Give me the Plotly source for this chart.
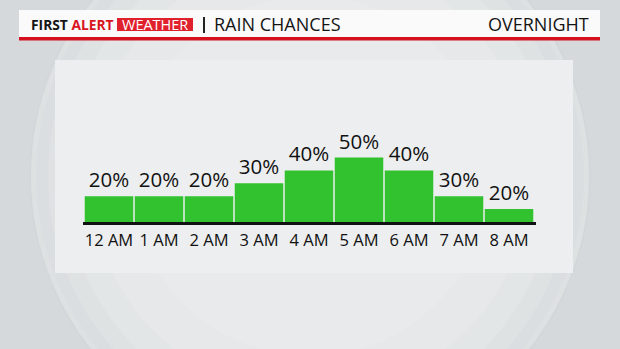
import plotly.graph_objects as go

# ---- data ----
hours = ["12 AM", "1 AM", "2 AM", "3 AM", "4 AM", "5 AM", "6 AM", "7 AM", "8 AM"]
bar_heights = [20, 20, 20, 30, 40, 50, 40, 20, 10]   # heights as drawn in the graphic
chance_labels = ["20%", "20%", "20%", "30%", "40%", "50%", "40%", "30%", "20%"]

W, H = 620, 349
FONT = "Open Sans"


def px(x):
    return x / W


def py(y):
    return 1 - y / H


fig = go.Figure()
fig.add_trace(go.Bar(
    x=hours, y=bar_heights,
    text=chance_labels, textposition="outside", cliponaxis=False,
    textfont=dict(family=FONT, size=20.5, color="#111111"),
    marker=dict(color="#33c22f", line=dict(width=0)),
    hoverinfo="skip",
))

shapes = []
# background sphere (concentric layers for a soft gradient)
cx, cy = 310, 176
layers = [(281, "#d3d7d9"), (279, "#dee1e2"), (274, "#dbdee0"), (262, "#dfe2e3"),
          (245, "#e3e6e7"), (220, "#e6e8e9"), (180, "#e8eaeb")]
for r, col in layers:
    shapes.append(dict(type="circle", xref="paper", yref="paper",
                       x0=px(cx - r), x1=px(cx + r), y0=py(cy + r), y1=py(cy - r),
                       fillcolor=col, line=dict(width=0), layer="below"))
# chart panel
shapes.append(dict(type="rect", xref="paper", yref="paper",
                   x0=px(55), x1=px(573), y0=py(273), y1=py(60),
                   fillcolor="#eceeef", line=dict(width=0), layer="below"))
# header bar
shapes.append(dict(type="rect", xref="paper", yref="paper",
                   x0=px(19), x1=px(600), y0=py(37), y1=py(10),
                   fillcolor="#fafafa", line=dict(width=0), layer="below"))
shapes.append(dict(type="rect", xref="paper", yref="paper",
                   x0=px(19), x1=px(600), y0=py(40.5), y1=py(37),
                   fillcolor="#d5101f", line=dict(width=0), layer="below"))
# WEATHER red box
shapes.append(dict(type="rect", xref="paper", yref="paper",
                   x0=px(117), x1=px(193), y0=py(31), y1=py(18),
                   fillcolor="#e0202c", line=dict(width=0), layer="below"))
# separator
shapes.append(dict(type="line", xref="paper", yref="paper",
                   x0=px(204), x1=px(204), y0=py(33), y1=py(17),
                   line=dict(color="#222222", width=2)))
# baseline
shapes.append(dict(type="line", xref="paper", yref="paper",
                   x0=px(83), x1=px(536), y0=py(223.5), y1=py(223.5),
                   line=dict(color="#111111", width=3), layer="above"))

annotations = [
    dict(text="<b>FIRST</b> <b><span style='color:#d9141f'>ALERT</span></b>",
         xref="paper", yref="paper", x=px(29), y=py(24.5), xanchor="left", yanchor="middle",
         showarrow=False, font=dict(family=FONT, size=13.8, color="#151515")),
    dict(text="WEATHER", xref="paper", yref="paper", x=px(155), y=py(24.5),
         xanchor="center", yanchor="middle", showarrow=False,
         font=dict(family=FONT, size=14.5, color="#ffffff")),
    dict(text="RAIN CHANCES", xref="paper", yref="paper", x=px(212), y=py(24),
         xanchor="left", yanchor="middle", showarrow=False,
         font=dict(family=FONT, size=18, color="#151515")),
    dict(text="OVERNIGHT", xref="paper", yref="paper", x=px(591), y=py(24),
         xanchor="right", yanchor="middle", showarrow=False,
         font=dict(family=FONT, size=18, color="#151515")),
]

y_bottom, y_top = 222, 222 - 8 * 12.9
fig.update_layout(
    width=W, height=H, margin=dict(l=0, r=0, t=0, b=0),
    paper_bgcolor="#d5d9db", plot_bgcolor="rgba(0,0,0,0)",
    showlegend=False, bargap=0.03,
    shapes=shapes, annotations=annotations,
    xaxis=dict(domain=[px(84), px(534)], range=[-0.5, 8.5], showgrid=False,
               zeroline=False, showline=False, ticks="", ticklabelstandoff=6,
               tickfont=dict(family=FONT, size=16.5, color="#111111")),
    yaxis=dict(domain=[py(y_bottom), py(y_top)], range=[0, 80], visible=False,
               showgrid=False, zeroline=False),
)

fig.write_html("out.html")
